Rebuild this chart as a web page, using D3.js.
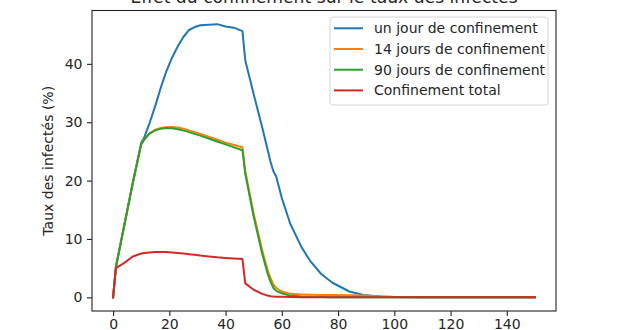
<!DOCTYPE html>
<html>
<head>
<meta charset="utf-8">
<script src="https://cdn.jsdelivr.net/npm/d3@7"></script>
<style>
  body { margin: 0; background: #fff; }
  svg { display: block; font-family: "DejaVu Sans", sans-serif; }
</style>
</head>
<body>
<svg id="chart"></svg>
<script>
const title = "Effet du confinement sur le taux des infectés";
const yLabel = "Taux des infectés (%)";

const days = [0, 1, 4, 7, 10, 11, 13, 15, 17, 19, 21, 23, 25, 27, 29, 31, 34, 37, 40, 43, 46,
  47, 50, 53, 55, 56, 57, 58, 60, 63, 67, 70, 74, 78, 84, 89, 95, 100, 110, 120, 130, 140, 150];

const unJour = [0, 5.2, 12.4, 19.6, 26.5, 27.3, 29.9, 32.8, 36.0, 38.8, 41.1, 43.0, 44.6, 45.8, 46.3, 46.6, 46.7, 46.8, 46.4, 46.2, 45.6,
  40.6, 34.8, 29.2, 25.2, 23.2, 21.6, 20.7, 17.0, 12.6, 8.6, 6.3, 4.0, 2.5, 1.0, 0.4, 0.15, 0.05, 0, 0, 0, 0, 0];

const jours14 = [0, 5.2, 12.4, 19.6, 26.2, 27.0, 28.1, 28.7, 29.0, 29.15, 29.2, 29.1, 28.9, 28.6, 28.3, 28.0, 27.5, 27.0, 26.5, 26.1, 25.7,
  21.6, 14.3, 8.1, 4.6, 3.3, 2.2, 1.6, 1.0, 0.6, 0.5, 0.45, 0.4, 0.4, 0.35, 0.3, 0.15, 0.05, 0.02, 0, 0, 0, 0];

const jours90 = [0, 5.2, 12.4, 19.6, 26.2, 27.0, 28.1, 28.6, 28.9, 29.0, 28.95, 28.8, 28.6, 28.3, 28.0, 27.7, 27.2, 26.7, 26.2, 25.7, 25.2,
  21.2, 13.8, 7.5, 4.0, 2.7, 1.6, 1.1, 0.7, 0.3, 0.15, 0.1, 0.05, 0.03, 0.02, 0, 0, 0, 0, 0, 0, 0, 0];

const total = [0, 5.0, 5.9, 7.0, 7.5, 7.6, 7.7, 7.75, 7.75, 7.75, 7.7, 7.6, 7.5, 7.4, 7.3, 7.15, 7.0, 6.85, 6.75, 6.65, 6.55,
  2.4, 1.3, 0.6, 0.3, 0.2, 0.15, 0.12, 0.1, 0.05, 0.02, 0, 0, 0, 0, 0, 0, 0, 0, 0, 0, 0, 0];

const seriesNames = ["un jour de confinement", "14 jours de confinement", "90 jours de confinement", "Confinement total"];
const seriesValues = [unJour, jours14, jours90, total];
const colors = ["#1f77b4", "#ff7f0e", "#2ca02c", "#d62728"];

const xTicks = [0, 20, 40, 60, 80, 100, 120, 140];
const yTicks = [0, 10, 20, 30, 40];

const width = 620, height = 330;
const margin = { top: 10.5, right: 64, bottom: 19, left: 92 };
const fs = 14;

const svg = d3.select("#chart").attr("width", width).attr("height", height);

// matplotlib-like 5% margins around the data
const xMin = d3.min(days), xMax = d3.max(days);
const yMax = d3.max(seriesValues, s => d3.max(s)), yMin = 0;
const xPad = (xMax - xMin) * 0.05, yPad = (yMax - yMin) * 0.05;

const x = d3.scaleLinear()
  .domain([xMin - xPad, xMax + xPad])
  .range([margin.left, width - margin.right]);

const y = d3.scaleLinear()
  .domain([yMin - yPad, yMax + yPad])
  .range([height - margin.bottom, margin.top]);

const line = d3.line()
  .x((d, i) => x(days[i]))
  .y(d => y(d));

seriesValues.forEach((vals, k) => {
  svg.append("path")
    .datum(vals)
    .attr("fill", "none")
    .attr("stroke", colors[k])
    .attr("stroke-width", 2)
    .attr("stroke-linejoin", "round")
    .attr("stroke-linecap", "square")
    .attr("d", line);
});

// axes
const xAxis = svg.append("g")
  .attr("transform", `translate(0,${height - margin.bottom})`)
  .call(d3.axisBottom(x).tickValues(xTicks).tickSizeOuter(0).tickSize(5).tickPadding(3));

const yAxis = svg.append("g")
  .attr("transform", `translate(${margin.left},0)`)
  .call(d3.axisLeft(y).tickValues(yTicks).tickSizeOuter(0).tickSize(5).tickPadding(4.5));

[xAxis, yAxis].forEach(a => {
  a.select(".domain").remove();
  a.selectAll("line").attr("stroke", "#222").attr("stroke-width", 1.1);
  a.selectAll("text")
    .attr("fill", "#262626")
    .attr("font-size", fs)
    .attr("font-family", "DejaVu Sans");
});

// frame
svg.append("rect")
  .attr("x", margin.left)
  .attr("y", margin.top)
  .attr("width", width - margin.left - margin.right)
  .attr("height", height - margin.top - margin.bottom)
  .attr("fill", "none")
  .attr("stroke", "#222")
  .attr("stroke-width", 1.1);

// title
svg.append("text")
  .attr("x", (margin.left + width - margin.right) / 2)
  .attr("y", 3)
  .attr("text-anchor", "middle")
  .attr("font-size", 17.2)
  .attr("fill", "#262626")
  .text(title);

// y label
svg.append("text")
  .attr("transform", `translate(53,${(margin.top + height - margin.bottom) / 2}) rotate(-90)`)
  .attr("text-anchor", "middle")
  .attr("font-size", fs)
  .attr("fill", "#262626")
  .text(yLabel);

// legend
const lg = svg.append("g").attr("transform", "translate(330,17)");
lg.append("rect")
  .attr("width", 218)
  .attr("height", 88)
  .attr("rx", 3)
  .attr("fill", "#fff")
  .attr("fill-opacity", 0.8)
  .attr("stroke", "#d6d6d6")
  .attr("stroke-width", 1);

seriesNames.forEach((name, k) => {
  const cy = 11.3 + k * 20.7;
  lg.append("line")
    .attr("x1", 4).attr("x2", 33)
    .attr("y1", cy).attr("y2", cy)
    .attr("stroke", colors[k])
    .attr("stroke-width", 2);
  lg.append("text")
    .attr("x", 44)
    .attr("y", cy)
    .attr("dy", "0.36em")
    .attr("font-size", fs)
    .attr("fill", "#262626")
    .text(name);
});
</script>
</body>
</html>
